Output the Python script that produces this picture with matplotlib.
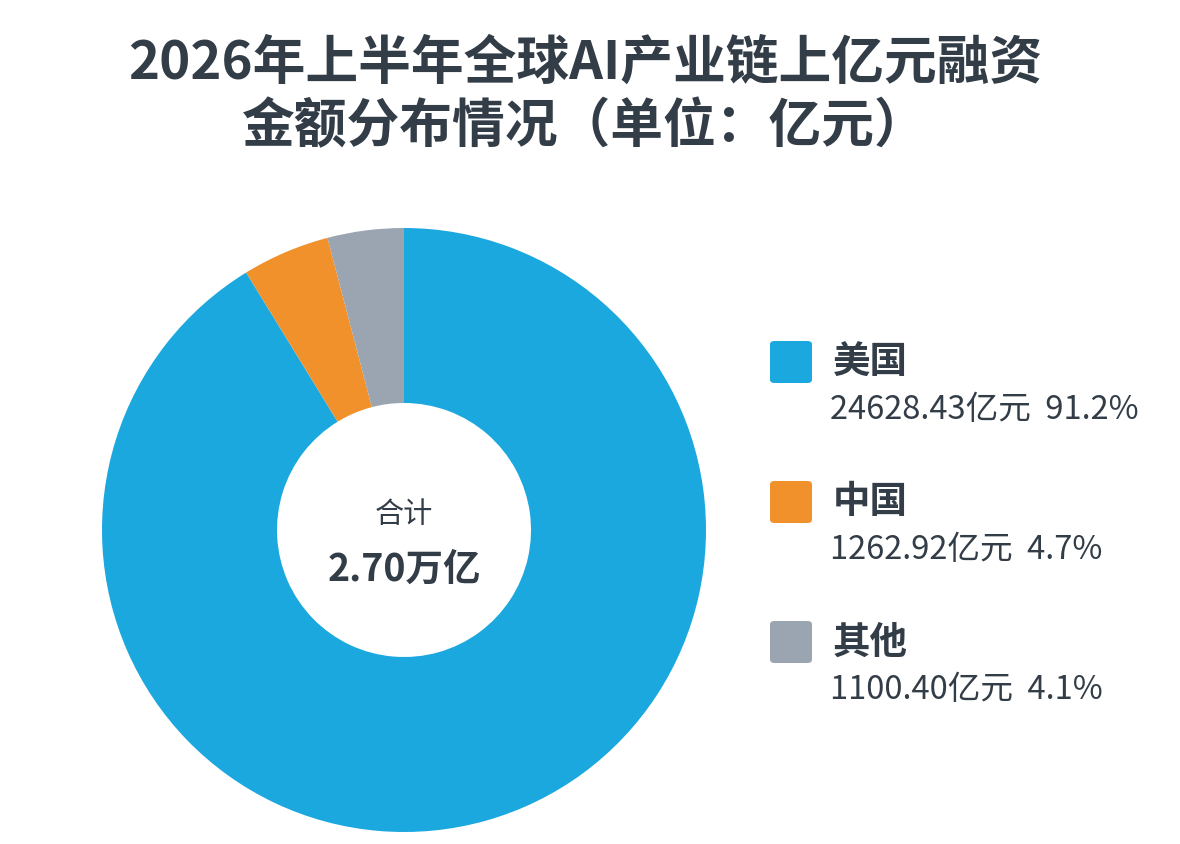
import matplotlib
matplotlib.use("Agg")
import matplotlib.pyplot as plt
from matplotlib.patches import FancyBboxPatch

plt.rcParams['font.family'] = ['Noto Sans CJK SC', 'DejaVu Sans']

labels = ["美国", "中国", "其他"]
values = [24628.43, 1262.92, 1100.40]
pcts = ["91.2%", "4.7%", "4.1%"]
colors = ["#1BA8DF", "#F0912C", "#9AA5B1"]
title = "2026年上半年全球AI产业链上亿元融资\n金额分布情况（单位：亿元）"
total_label = "2.70万亿"

W, H = 1180, 844
fig = plt.figure(figsize=(W/100, H/100), dpi=100)
fig.patch.set_facecolor("white")

cx, cy, r = 404, 530, 302
ax = fig.add_axes([(cx-r)/W, (H-cy-r)/H, 2*r/W, 2*r/H])
ax.pie(values, colors=colors, startangle=90, counterclock=False,
       wedgeprops=dict(width=1-127/302, edgecolor="none"))
ax.set_xlim(-1, 1); ax.set_ylim(-1, 1)
ax.set_aspect("equal")
ax.text(0, 0.05, "合计", ha="center", va="center", fontsize=21, color="#333d47")
ax.text(0, -0.13, total_label, ha="center", va="center", fontsize=27,
        fontweight="bold", color="#333d47")

fig.text(585/W, 1-95/H, title, ha="center", va="center", fontsize=38,
         fontweight="bold", color="#333d47", linespacing=1.25)

for i, (lab, v, p, c) in enumerate(zip(labels, values, pcts, colors)):
    y0 = 362 + i*140
    fig.patches.append(FancyBboxPatch((770/W, 1-(y0+21)/H), 42/W, 42/H,
        boxstyle="round,pad=0,rounding_size=0.004", transform=fig.transFigure,
        facecolor=c, edgecolor="none"))
    fig.text(833/W, 1-y0/H, lab, ha="left", va="center", fontsize=27,
             fontweight="bold", color="#333d47")
    fig.text(830/W, 1-(y0+48)/H, f"{v:.2f}亿元  {p}", ha="left", va="center",
             fontsize=23.5, color="#333d47")

fig.savefig("out.png", dpi=100)
